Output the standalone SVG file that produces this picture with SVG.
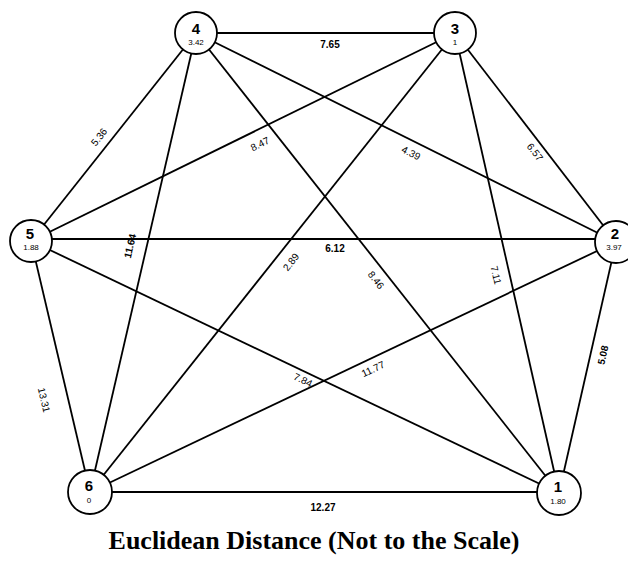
<svg xmlns="http://www.w3.org/2000/svg" width="628" height="561" viewBox="0 0 628 561">
<style>
.e{stroke:#000;stroke-width:1.8;fill:none}
.n circle{fill:#fff;stroke:#000;stroke-width:1.8}
.id{font-family:"Liberation Sans",Arial,sans-serif;font-size:15px;font-weight:bold;text-anchor:middle}
.v{font-family:"Liberation Sans",Arial,sans-serif;font-size:8px;text-anchor:middle}
.l{font-family:"Liberation Sans",Arial,sans-serif;font-size:10px;text-anchor:middle;dominant-baseline:central}
.b{font-weight:bold}
.t{font-family:"Liberation Serif","Times New Roman",serif;font-size:26px;font-weight:bold;text-anchor:middle}
</style>
<rect width="628" height="561" fill="#fff"/>
<g id="connectors">
<line class="e" x1="196" y1="33" x2="455" y2="33"/>
<line class="e" x1="31" y1="239" x2="616" y2="239" stroke-width="2.2"/>
<line class="e" x1="90" y1="492" x2="559" y2="492" stroke-width="1.3"/>
<line class="e" x1="196" y1="33" x2="31" y2="241"/>
<line class="e" x1="196" y1="33" x2="90" y2="492"/>
<line class="e" x1="196" y1="33" x2="616" y2="242"/>
<line class="e" x1="196" y1="33" x2="559" y2="493"/>
<line class="e" x1="455" y1="33" x2="31" y2="241"/>
<line class="e" x1="455" y1="33" x2="90" y2="492"/>
<line class="e" x1="455" y1="33" x2="616" y2="242"/>
<line class="e" x1="455" y1="33" x2="559" y2="493"/>
<line class="e" x1="31" y1="241" x2="90" y2="492"/>
<line class="e" x1="31" y1="241" x2="559" y2="493"/>
<line class="e" x1="616" y1="242" x2="90" y2="492"/>
<line class="e" x1="616" y1="242" x2="559" y2="493"/>
</g>
<g id="labels">
<text class="l b" x="330" y="44">7.65</text>
<text class="l b" x="335" y="248">6.12</text>
<text class="l b" x="323" y="507">12.27</text>
<text class="l" transform="translate(99,137) rotate(-51.6)">5.36</text>
<text class="l b" transform="translate(130,246) rotate(-77)">11.64</text>
<text class="l" transform="translate(411,153) rotate(26.5)">4.39</text>
<text class="l" transform="translate(376,280) rotate(51.7)">8.46</text>
<text class="l" transform="translate(260,144) rotate(-26.1)">8.47</text>
<text class="l" transform="translate(291,262) rotate(-51.5)">2.89</text>
<text class="l" transform="translate(535,152) rotate(52.4)">6.57</text>
<text class="l" transform="translate(496,275) rotate(77.3)">7.11</text>
<text class="l" transform="translate(44,400) rotate(76.8)">13.31</text>
<text class="l" transform="translate(303,380) rotate(25.5)">7.84</text>
<text class="l" transform="translate(373,369) rotate(-25.4)">11.77</text>
<text class="l b" transform="translate(603,355) rotate(-77.2)">5.08</text>
</g>
<g id="node4" class="n"><circle cx="196" cy="33" r="21"/><text class="id" x="196" y="34">4</text><text class="v" x="196" y="45">3.42</text></g>
<g id="node3" class="n"><circle cx="455" cy="33" r="21"/><text class="id" x="455" y="34">3</text><text class="v" x="455" y="45">1</text></g>
<g id="node5" class="n"><circle cx="31" cy="241" r="21"/><text class="id" x="30" y="239">5</text><text class="v" x="31" y="250">1.88</text></g>
<g id="node2" class="n"><circle cx="616" cy="242" r="21"/><text class="id" x="615" y="239">2</text><text class="v" x="614" y="250">3.97</text></g>
<g id="node6" class="n"><circle cx="90" cy="492" r="22"/><text class="id" x="89" y="491">6</text><text class="v" x="89" y="503">0</text></g>
<g id="node1" class="n"><circle cx="559" cy="493" r="22"/><text class="id" x="558" y="492">1</text><text class="v" x="558" y="504">1.80</text></g>
<text class="t" x="314" y="549">Euclidean Distance (Not to the Scale)</text>
</svg>
